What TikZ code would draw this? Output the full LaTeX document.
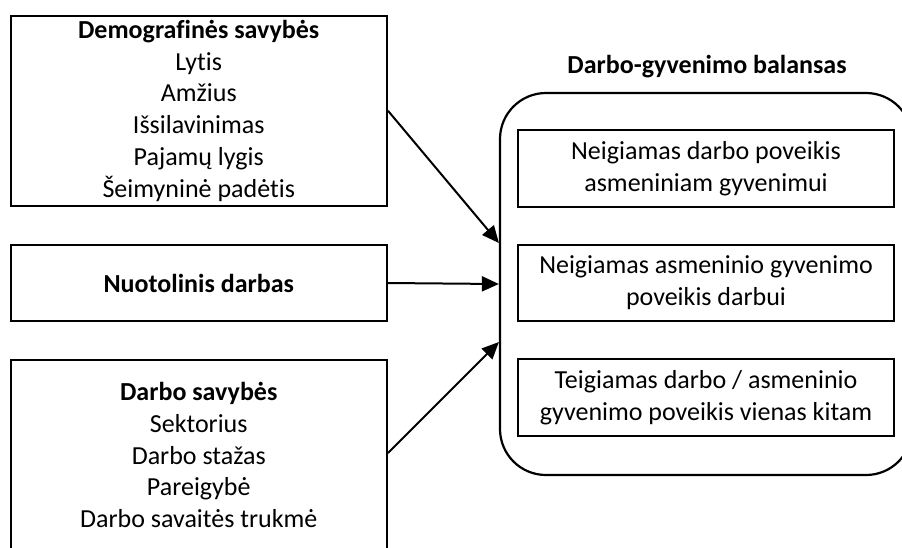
\documentclass[tikz,border=0pt]{standalone}
\usepackage{fontspec}
\setmainfont{Carlito}[RawFeature={-liga}]
\usetikzlibrary{arrows.meta}
\tikzset{
  txt/.style={font=\fontsize{26}{31.8}\selectfont, align=center, inner sep=0pt},
  sqbox/.style={txt, draw, line width=2pt, rectangle},
  roundbox/.style={draw, line width=2.2pt, rectangle, rounded corners=46pt, inner sep=0pt},
  arr/.style={line width=2pt, -{Triangle[length=17pt,width=15pt]}}
}
\begin{document}
\begin{tikzpicture}[x=1pt,y=-1pt]
\useasboundingbox (0,0) rectangle (902,547);
\clip (0,0) rectangle (902,547);
% left boxes
\node[sqbox, minimum width=376.5pt, minimum height=190.5pt] (demo) at (198.75,110.75)
  {\textbf{Demografinės savybės}\\Lytis\\Amžius\\Išsilavinimas\\Pajamų lygis\\Šeimyninė padėtis};
\node[sqbox, minimum width=376.5pt, minimum height=76pt] (nuot) at (198.75,283)
  {\textbf{Nuotolinis darbas}};
\node[sqbox, minimum width=376.5pt, minimum height=190pt] (darbo) at (198.75,455)
  {\textbf{Darbo savybės}\\Sektorius\\Darbo stažas\\Pareigybė\\Darbo savaitės trukmė};
% right group
\node[txt, anchor=base] (title) at (707,73) {\textbf{Darbo-gyvenimo balansas}};
\node[roundbox, minimum width=412pt, minimum height=382pt] (rbox) at (706,284) {};
\node[sqbox, minimum width=376pt, minimum height=77pt] (in1) at (706,168.5)
  {Neigiamas darbo poveikis\\asmeniniam gyvenimui};
\node[sqbox, minimum width=376pt, minimum height=76pt] (in2) at (706,283)
  {Neigiamas asmeninio gyvenimo\\poveikis darbui};
\node[sqbox, minimum width=376pt, minimum height=77pt] (in3) at (706,397.5)
  {Teigiamas darbo / asmeninio\\gyvenimo poveikis vienas kitam};
% arrows
\draw[arr] (demo.east) -- ([yshift=41pt]rbox.west);
\draw[arr] (nuot.east) -- (rbox.west);
\draw[arr] ([yshift=2pt]darbo.east) -- ([yshift=-58pt]rbox.west);
\end{tikzpicture}
\end{document}
